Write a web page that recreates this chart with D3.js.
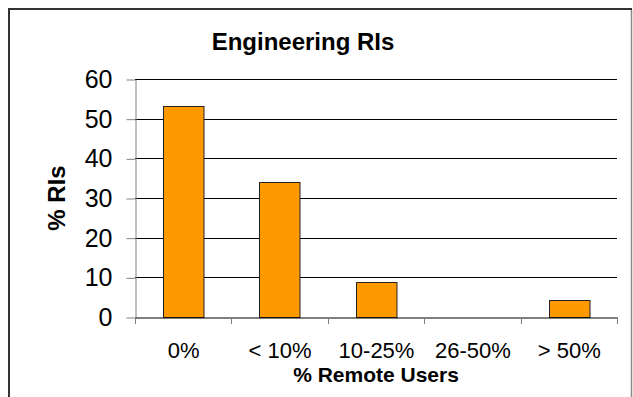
<!DOCTYPE html>
<html>
<head>
<meta charset="utf-8">
<script src="https://cdn.jsdelivr.net/npm/d3@7"></script>
<style>
  body { margin: 0; background: #fff; }
  svg { display: block; font-family: "Liberation Sans", Arial, sans-serif; }
</style>
</head>
<body>
<div id="chart"></div>
<script>
// data
const categories = ["0%", "< 10%", "10-25%", "26-50%", "> 50%"];
const values = [53.2, 34.0, 8.7, 0, 4.2];
const yTicks = [0, 10, 20, 30, 40, 50, 60];

const W = 633, H = 397;
const plot = {left: 135, right: 617, top: 79, bottom: 317};

const svg = d3.select("#chart")
    .append("svg")
    .attr("width", W)
    .attr("height", H);

// outer frame (bottom is cut off in the original)
svg.append("line")
    .attr("x1", 8).attr("y1", 9).attr("x2", 632).attr("y2", 9)
    .attr("stroke", "#333").attr("stroke-width", 2);
svg.append("line")
    .attr("x1", 9).attr("y1", 8).attr("x2", 9).attr("y2", H)
    .attr("stroke", "#333").attr("stroke-width", 2);
svg.append("line")
    .attr("x1", 631.5).attr("y1", 10).attr("x2", 631.5).attr("y2", H)
    .attr("stroke", "#888").attr("stroke-width", 1.5);

const x = d3.scaleBand()
    .domain(categories)
    .range([plot.left, plot.right])
    .paddingInner(0.58)
    .paddingOuter(0.29);

const y = d3.scaleLinear()
    .domain([0, 60])
    .range([plot.bottom, plot.top]);

// gridlines
svg.append("g")
    .selectAll("line")
    .data(yTicks.filter(d => d > 0))
    .join("line")
    .attr("x1", plot.left)
    .attr("x2", plot.right)
    .attr("y1", d => Math.round(y(d)) + 0.5)
    .attr("y2", d => Math.round(y(d)) + 0.5)
    .attr("stroke", "#000")
    .attr("stroke-width", 1);

// y axis
const yAxis = svg.append("g")
    .attr("transform", `translate(${plot.left + 0.5},0.5)`)
    .call(d3.axisLeft(y).tickValues(yTicks).tickSize(9).tickPadding(14).tickSizeOuter(0));
yAxis.select(".domain").attr("stroke", "#808080");
yAxis.selectAll(".tick line").attr("stroke", "#808080");
yAxis.selectAll("text")
    .attr("font-size", 25)
    .attr("fill", "#000")
    .attr("font-family", "Liberation Sans, Arial, sans-serif");

// bars
svg.append("g")
    .selectAll("rect")
    .data(values)
    .join("rect")
    .attr("x", (d, i) => Math.round(x(categories[i])) + 0.5)
    .attr("y", d => Math.round(y(d)) + 0.5)
    .attr("width", x.bandwidth())
    .attr("height", d => Math.round(y(0)) - Math.round(y(d)))
    .attr("fill", "#FF9900")
    .attr("stroke", d => d > 0 ? "#222" : "none")
    .attr("stroke-width", 1);

// x axis
const xAxis = svg.append("g")
    .attr("transform", `translate(0.5,${Math.round(plot.bottom) + 0.5})`)
    .call(d3.axisBottom(x).tickSize(0).tickPadding(25).tickSizeOuter(0));
xAxis.select(".domain").attr("stroke", "#000");
xAxis.selectAll("text")
    .attr("font-size", 22)
    .attr("fill", "#000")
    .attr("font-family", "Liberation Sans, Arial, sans-serif");

// category separator ticks sit on band edges
const step = x.step();
const edges = d3.range(categories.length + 1).map(i => plot.left + i * step);
svg.append("g")
    .selectAll("line")
    .data(edges)
    .join("line")
    .attr("x1", d => Math.round(d) + 0.5)
    .attr("x2", d => Math.round(d) + 0.5)
    .attr("y1", plot.bottom)
    .attr("y2", plot.bottom + 7)
    .attr("stroke", "#808080");

// titles
svg.append("text")
    .attr("x", 303)
    .attr("y", 50)
    .attr("text-anchor", "middle")
    .attr("font-size", 24)
    .attr("font-weight", "bold")
    .text("Engineering RIs");

svg.append("text")
    .attr("x", (plot.left + plot.right) / 2)
    .attr("y", 382)
    .attr("text-anchor", "middle")
    .attr("font-size", 21)
    .attr("font-weight", "bold")
    .text("% Remote Users");

svg.append("text")
    .attr("transform", `translate(65,${(plot.top + plot.bottom) / 2}) rotate(-90)`)
    .attr("text-anchor", "middle")
    .attr("font-size", 24)
    .attr("font-weight", "bold")
    .text("% RIs");
</script>
</body>
</html>
